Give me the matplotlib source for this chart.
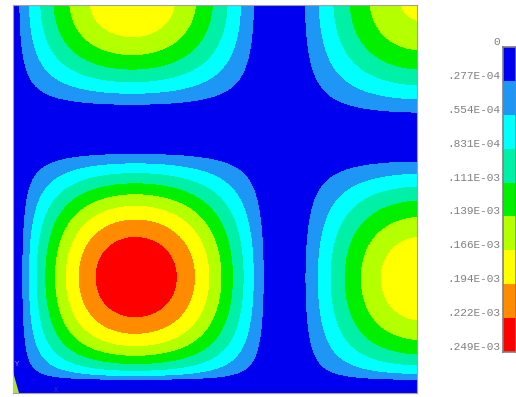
import numpy as np
import matplotlib
matplotlib.use('Agg')
import matplotlib.pyplot as plt
from matplotlib.patches import Polygon

# Nodal solution legend (ANSYS style contour bands)
legend_labels = ['0', '.277E-04', '.554E-04', '.831E-04', '.111E-03',
                 '.139E-03', '.166E-03', '.194E-03', '.222E-03', '.249E-03']
legend_levels = [0.0, 0.277e-4, 0.554e-4, 0.831e-4, 0.111e-3,
                 0.139e-3, 0.166e-3, 0.194e-3, 0.222e-3, 0.249e-3]
band_colors = ['#0000f0', '#1e96f5', '#00ffff', '#00f0a8', '#00f000',
               '#b4ff00', '#ffff00', '#ff8c00', '#ff0000']

# plate dimensions (model units)
plate_w = 404
plate_h = 388

# mode shape lobes: centre, relative amplitude,
# half widths towards -x, +x, -y, +y and the exponent on each side
lobe_xc = [122, 409, 119, 409]
lobe_yc = [116, 115, 393, 393]
lobe_amp = [1.0, 0.76, 0.76, 0.69]
lobe_half = [[117, 138, 104, 132],
             [128, 128, 104, 128],
             [119, 134, 115, 115],
             [130, 130, 125, 125]]
lobe_pow = [[0.8, 1.0, 0.6, 1.0],
            [1.0, 1.0, 0.6, 1.0],
            [0.8, 1.0, 1.0, 1.0],
            [1.0, 1.0, 1.0, 1.0]]


def side(d, w, p):
    t = np.clip(np.abs(d) / w, 0, 1)
    return np.cos(np.pi / 2 * t) ** p


x = np.linspace(0, plate_w, 700)
y = np.linspace(0, plate_h, 700)
X, Y = np.meshgrid(x, y)

usum = np.zeros_like(X)
for xc, yc, a, hw, pw in zip(lobe_xc, lobe_yc, lobe_amp, lobe_half, lobe_pow):
    gx = np.where(X < xc, side(X - xc, hw[0], pw[0]), side(X - xc, hw[1], pw[1]))
    gy = np.where(Y < yc, side(Y - yc, hw[2], pw[2]), side(Y - yc, hw[3], pw[3]))
    usum = np.maximum(usum, a * gx * gy)
usum = usum * legend_levels[-1] * 0.9999

fig = plt.figure(figsize=(5.16, 3.97), dpi=100)
fig.patch.set_facecolor('white')

ax = fig.add_axes([13 / 516, 4 / 397, 404 / 516, 388 / 397])
ax.contourf(X, Y, usum, levels=legend_levels, colors=band_colors)
ax.set_xlim(0, plate_w)
ax.set_ylim(0, plate_h)
ax.set_xticks([])
ax.set_yticks([])
for s in ax.spines.values():
    s.set_color('#a0a0a0')
    s.set_linewidth(0.8)

# global triad in the corner
ax.add_patch(Polygon([(0, 0), (0, 21 / plate_h), (6 / plate_w, 0)],
                     closed=True, transform=ax.transAxes,
                     facecolor='#b0e040', edgecolor='none', zorder=5))
ax.text(4 / plate_w, 29 / plate_h, 'Y', transform=ax.transAxes, fontsize=5,
        color='#9090ff', ha='center', va='center', family='Liberation Mono')
ax.text(43 / plate_w, 3 / plate_h, 'X', transform=ax.transAxes, fontsize=5,
        color='#3030c0', ha='center', va='center', family='Liberation Mono')

# legend bar
cb = fig.add_axes([503 / 516, 45 / 397, 13 / 516, 305 / 397])
for i, c in enumerate(band_colors):
    cb.axhspan(i, i + 1, color=c, lw=0)
cb.set_ylim(len(band_colors), 0)
cb.set_xlim(0, 1)
cb.set_xticks([])
cb.set_yticks([])
for s in cb.spines.values():
    s.set_color('#808080')
    s.set_linewidth(1.2)

for k, lab in enumerate(legend_labels):
    cb.annotate(lab, xy=(0, k), xycoords=cb.get_yaxis_transform(),
                xytext=(-2, 3.6), textcoords='offset points',
                ha='right', va='center', fontsize=8, color='#808080',
                family='Liberation Mono')

fig.savefig('out.png', dpi=100)
